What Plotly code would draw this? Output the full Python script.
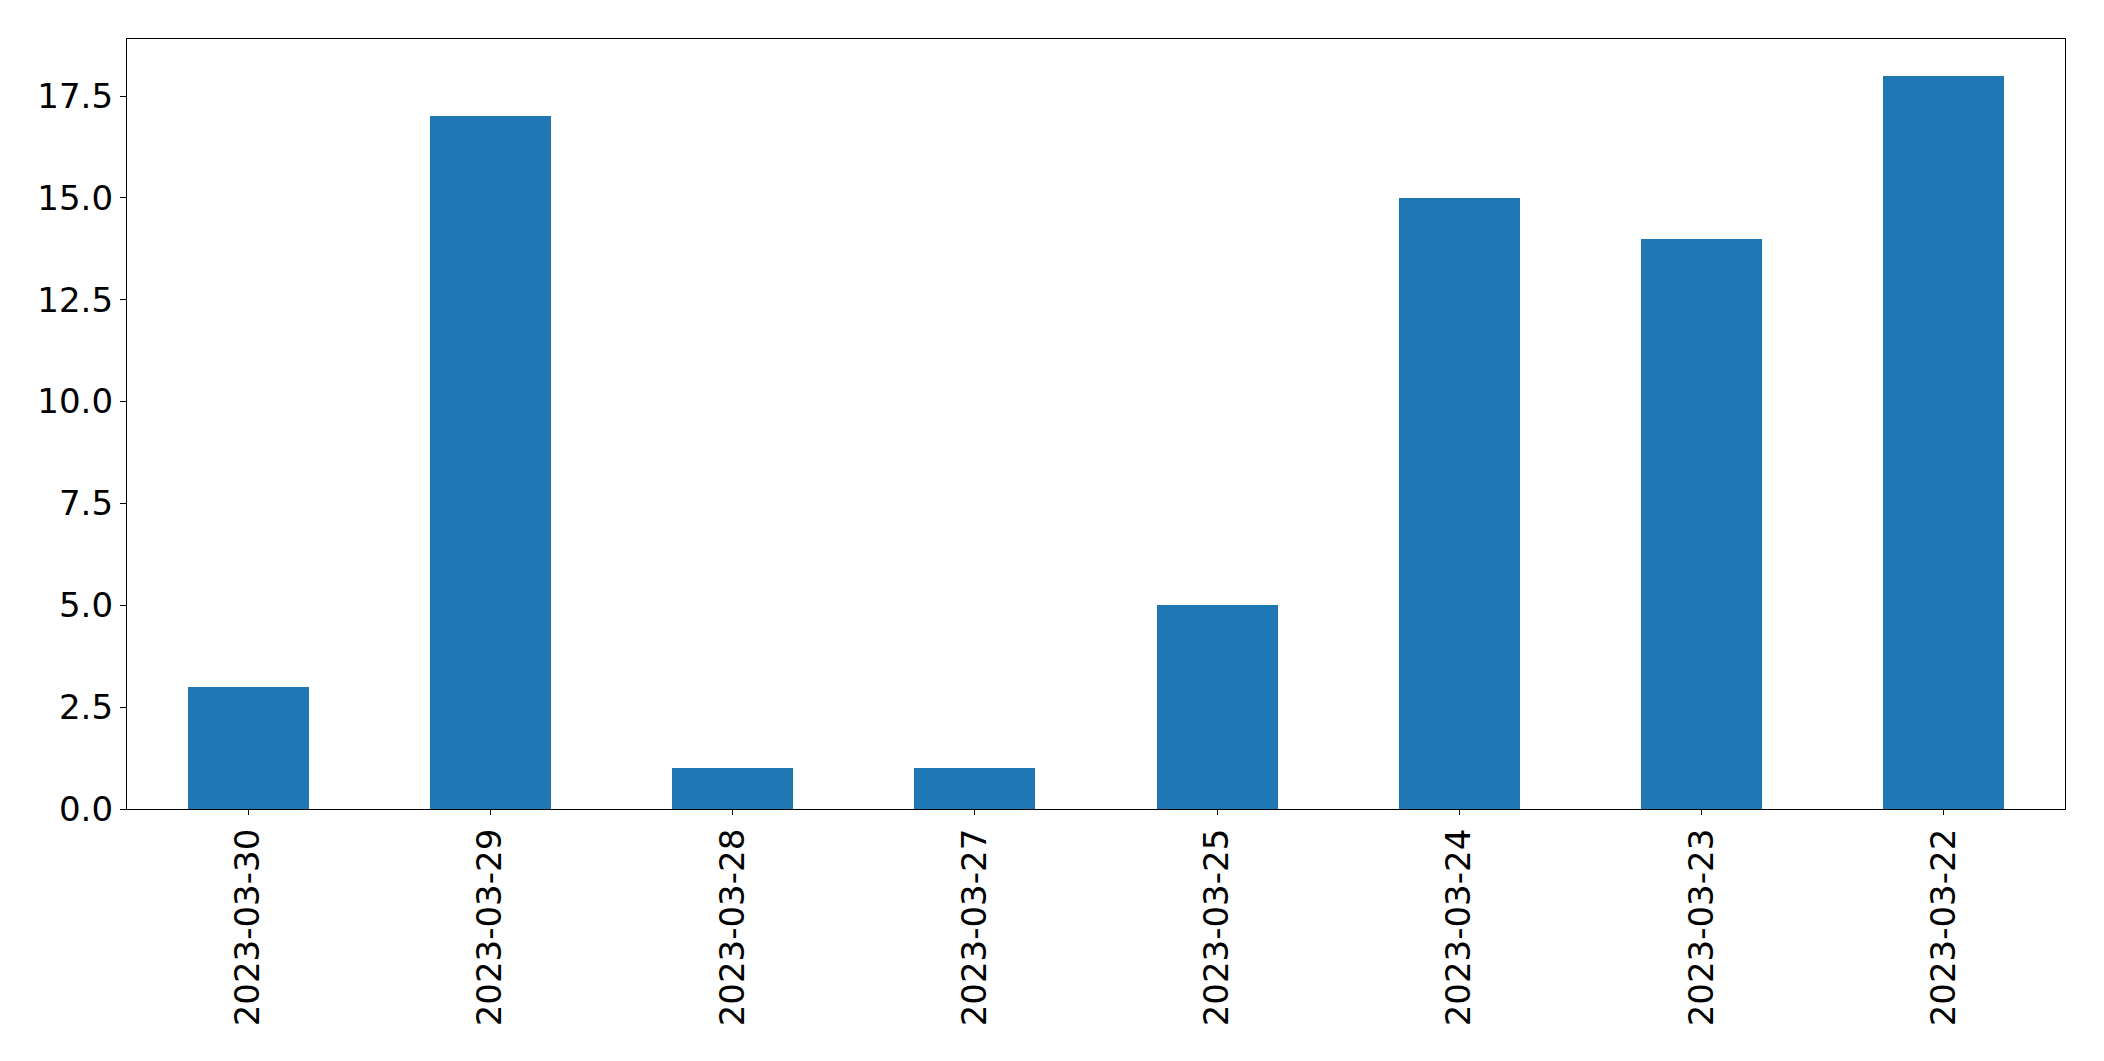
import plotly.graph_objects as go

dates = ["2023-03-30", "2023-03-29", "2023-03-28", "2023-03-27",
         "2023-03-25", "2023-03-24", "2023-03-23", "2023-03-22"]
counts = [3, 17, 1, 1, 5, 15, 14, 18]
ytick_vals = [0, 2.5, 5, 7.5, 10, 12.5, 15, 17.5]

fig = go.Figure(go.Bar(x=dates, y=counts, width=0.5, marker_color="#1f77b4",
                       marker_line_width=0))

font = dict(family="DejaVu Sans", size=34, color="black")
fig.update_layout(
    width=2104, height=1061,
    margin=dict(l=127, r=39, t=39, b=252, pad=0),
    paper_bgcolor="white", plot_bgcolor="white",
    showlegend=False, font=font,
    bargap=0,
)
fig.update_xaxes(type="category", range=[-0.5, 7.5], tickangle=-90,
                 showline=True, linecolor="black", linewidth=1.3, mirror=True,
                 ticks="outside", ticklen=5, tickcolor="black", tickwidth=1.3,
                 showgrid=False, tickfont=font)
fig.update_yaxes(range=[0, 18.9], tickvals=ytick_vals,
                 ticktext=[f"{v:.1f}" for v in ytick_vals],
                 showline=True, linecolor="black", linewidth=1.3, mirror=True,
                 ticks="outside", ticklen=6, tickcolor="black", tickwidth=1.3,
                 showgrid=False, zeroline=False, tickfont=font)

fig.write_html("out.html", config={"displayModeBar": False},
               post_script="document.body.style.margin='0';document.body.style.padding='0';")
